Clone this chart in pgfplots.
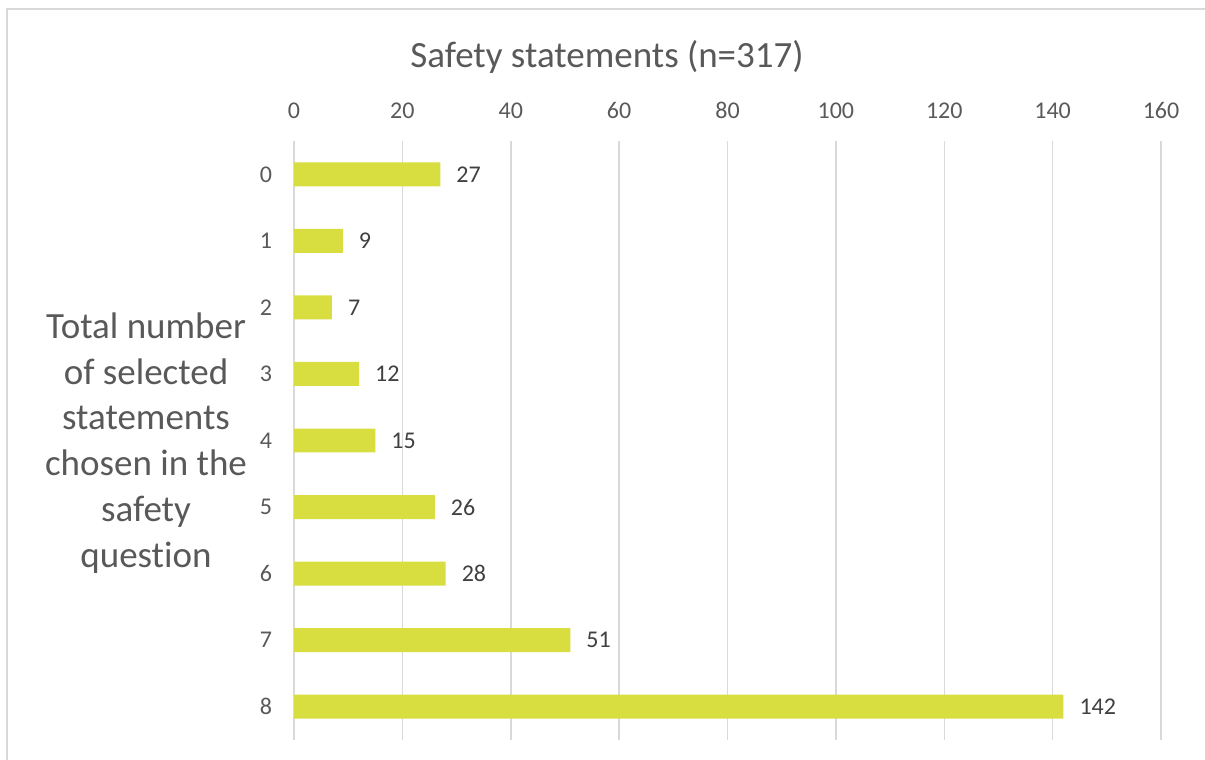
\documentclass[border=0pt]{standalone}
\usepackage{pgfplots}
\pgfplotsset{compat=1.18}
\usepackage{fontspec}
\setmainfont{Carlito}[Ligatures=NoCommon]
\definecolor{barc}{HTML}{D9DE40}
\definecolor{txt}{HTML}{595959}
\definecolor{lbl}{HTML}{404040}
\definecolor{gridc}{HTML}{D9D9D9}
\begin{document}
\begin{tikzpicture}
\path[use as bounding box] (0,0) rectangle (602.5pt,380pt);
\draw[gridc, line width=0.75pt] (3.5pt,-5pt) -- (3.5pt,375.5pt) -- (610pt,375.5pt);
\node[txt, font=\fontsize{18.5pt}{22pt}\selectfont] at (303.5pt,351.5pt) {Safety statements (n=317)};
\node[txt, align=center, font=\fontsize{18.5pt}{22.9pt}\selectfont] at (73pt,158.5pt) {Total number\\of selected\\statements\\chosen in the\\safety\\question};
\begin{axis}[
  at={(147pt,10pt)}, anchor=south west,
  scale only axis, width=433.5pt, height=299.5pt,
  xbar, bar width=0.36,
  xmin=0, xmax=160, ymin=-0.5, ymax=8.5,
  y dir=reverse,
  xtick={0,20,...,160},
  ytick={0,...,8},
  xticklabel pos=top,
  axis line style={draw=none},
  major tick length=0pt,
  xmajorgrids, grid style={gridc, line width=0.75pt},
  /pgf/number format/assume math mode=true,
  ticklabel style={font=\fontsize{12pt}{14pt}\selectfont, text=txt},
  xticklabel style={yshift=7.5pt},
  yticklabel style={xshift=-7.5pt},
  nodes near coords,
  nodes near coords style={font=\fontsize{12pt}{14pt}\selectfont, text=lbl, anchor=west, xshift=4.5pt},
  point meta=explicit symbolic,
]
\addplot[fill=barc, draw=none] coordinates {
(27,0) [27]
(9,1) [9]
(7,2) [7]
(12,3) [12]
(15,4) [15]
(26,5) [26]
(28,6) [28]
(51,7) [51]
(142,8) [142]
};
\end{axis}
\end{tikzpicture}
\end{document}
